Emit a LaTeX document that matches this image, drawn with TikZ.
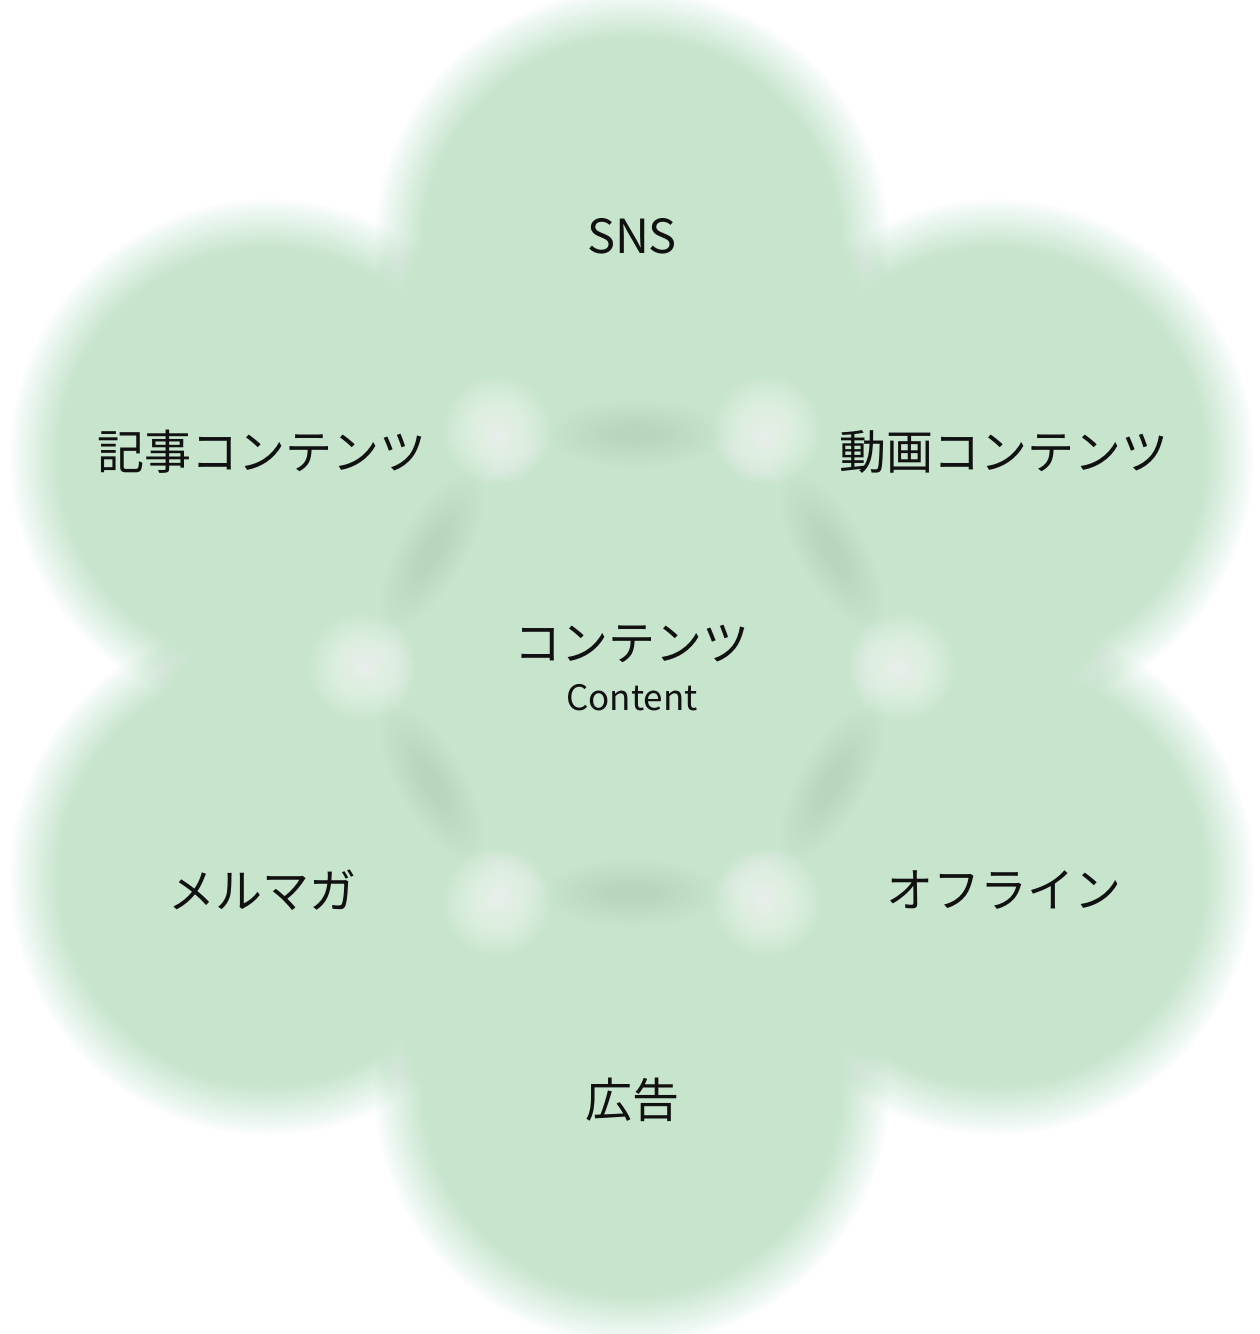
\documentclass[tikz,border=0pt]{standalone}
\usepackage{fontspec}
\setmainfont{Noto Sans CJK JP}
\definecolor{petalgreen}{RGB}{199,229,205}
\definecolor{bandgreen}{RGB}{178,214,186}
\definecolor{spotwhite}{RGB}{247,252,247}
\definecolor{inkblack}{RGB}{17,17,17}
% soft-edged disc: 26 layered discs, alpha grows linearly from r=#2+26 to r=#2-26
\newcommand\blurdisc[2]{%
  \foreach \k in {1,...,26}{%
    \pgfmathsetmacro\rr{#2+28-2*\k}%
    \pgfmathsetmacro\op{1/(27-\k)}%
    \fill[petalgreen, opacity=\op] (#1) circle (\rr);
  }%
}
% soft darker band on the rim of the central disc
\newcommand\softband[2]{%
  \foreach \k in {1,...,16}{%
    \pgfmathsetmacro\sa{92-4.5*\k}%
    \pgfmathsetmacro\sb{36-1.9*\k}%
    \fill[bandgreen, opacity=0.026, rotate around={#2:(#1)}] (#1) ellipse ({\sa} and {\sb});
  }%
}
% soft light spot in the gaps between discs
\newcommand\softspot[1]{%
  \foreach \k in {1,...,18}{%
    \pgfmathsetmacro\sr{56-2.9*\k}%
    \fill[spotwhite, opacity=0.07] (#1) circle (\sr);
  }%
}
\begin{document}
\begin{tikzpicture}[x=1pt,y=-1pt,
  biglabel/.style={text=inkblack, font=\fontsize{47}{50}\selectfont, inner sep=0pt},
  sublabel/.style={text=inkblack, font=\fontsize{35}{38}\selectfont, inner sep=0pt}]
\useasboundingbox (0,0) rectangle (1260,1334);
\fill[white] (0,0) rectangle (1260,1334);
% centres
\coordinate (c0) at (632,667);
\coordinate (p1) at (632,247);
\coordinate (p2) at (996,457);
\coordinate (p3) at (996,877);
\coordinate (p4) at (632,1087);
\coordinate (p5) at (268,877);
\coordinate (p6) at (268,457);
% discs
\blurdisc{c0}{236}
\blurdisc{p1}{232}
\blurdisc{p2}{232}
\blurdisc{p3}{232}
\blurdisc{p4}{232}
\blurdisc{p5}{232}
\blurdisc{p6}{232}
% darker bands where the central disc's rim crosses each petal
\coordinate (b1) at (636,434);
\coordinate (b2) at (832,551);
\coordinate (b3) at (832,783);
\coordinate (b4) at (632,893);
\coordinate (b5) at (432,783);
\coordinate (b6) at (432,551);
\softband{b1}{0}
\softband{b2}{-60}
\softband{b3}{60}
\softband{b4}{0}
\softband{b5}{-60}
\softband{b6}{60}
% light spots between the central disc and the petals
\coordinate (s1) at (497,430);
\coordinate (s2) at (767,430);
\coordinate (s3) at (902,667);
\coordinate (s4) at (767,902);
\coordinate (s5) at (497,902);
\coordinate (s6) at (362,667);
\softspot{s1}
\softspot{s2}
\softspot{s3}
\softspot{s4}
\softspot{s5}
\softspot{s6}
% labels
\node[biglabel] (sns) at (632,236) {SNS};
\node[biglabel] (kiji) at (262,452) {記事コンテンツ};
\node[biglabel] (douga) at (1004,452) {動画コンテンツ};
\node[biglabel] (mail) at (262,890) {メルマガ};
\node[biglabel] (off) at (1004,890) {オフライン};
\node[biglabel] (ad) at (632,1100) {広告};
\node[biglabel] (ctja) at (632,644) {コンテンツ};
\node[sublabel] (cten) at (632,698) {Content};
\end{tikzpicture}
\end{document}
